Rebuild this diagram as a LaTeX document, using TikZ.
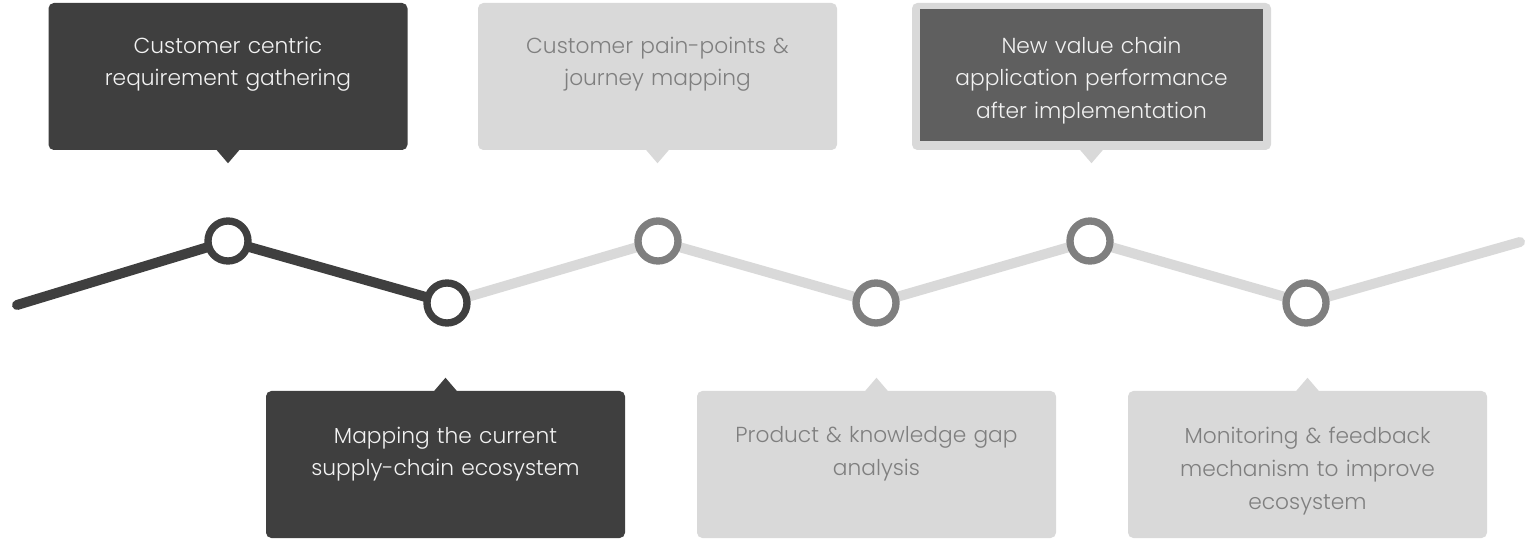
\documentclass[tikz,border=0pt]{standalone}
\usepackage{fontspec}
\setmainfont{Poppins}[UprightFont={* Light}]
\usetikzlibrary{calc,backgrounds}
\definecolor{dk}{HTML}{3F3F3F}
\definecolor{lt}{HTML}{D9D9D9}
\definecolor{md}{HTML}{7F7F7F}
\definecolor{inn}{HTML}{5F5F5F}
\definecolor{wt}{HTML}{F2F2F2}
\tikzset{
  box/.style={minimum width=359*0.75pt, minimum height=147*0.75pt, rounded corners=4pt, inner sep=0pt},
  darkbox/.style={box, fill=dk},
  lightbox/.style={box, fill=lt},
  txt/.style={anchor=north, align=center, text width=330*0.75pt, font=\fontsize{16.3}{24.7}\selectfont},
  ring/.style={circle, draw, line width=5.5pt, fill=white, minimum size=30pt, inner sep=0pt},
  seg/.style={line width=7.5pt, line cap=round},
}
\begin{document}
\begin{tikzpicture}[x=0.75pt,y=-0.75pt]
\useasboundingbox (0,0) rectangle (1528,541);
% path coordinates
\coordinate (p0) at (17,305);
\coordinate (p1) at (228,241);
\coordinate (p2) at (447,303);
\coordinate (p3) at (658,241);
\coordinate (p4) at (876,303);
\coordinate (p5) at (1090,241);
\coordinate (p6) at (1306,303);
\coordinate (p7) at (1520,242);
\draw[seg, lt] (p2) -- (p3) -- (p4) -- (p5) -- (p6) -- (p7);
\draw[seg, dk, line join=round] (p0) -- (p1) -- (p2);
\node[ring, draw=dk] (c1) at (p1) {};
\node[ring, draw=dk] (c2) at (p2) {};
\node[ring, draw=md] (c3) at (p3) {};
\node[ring, draw=md] (c4) at (p4) {};
\node[ring, draw=md] (c5) at (p5) {};
\node[ring, draw=md] (c6) at (p6) {};
% top boxes
\node[darkbox] (b1) at (228,76.5) {};
\fill[dk] ($(b1.south)+(-12,-1)$) -- ($(b1.south)+(12,-1)$) -- ($(b1.south)+(0,13)$) -- cycle;
\node[txt, text=wt] (t1) at (228,32) {Customer centric\\requirement gathering};
\node[lightbox] (b2) at (657.5,76.5) {};
\fill[lt] ($(b2.south)+(-12,-1)$) -- ($(b2.south)+(12,-1)$) -- ($(b2.south)+(0,13)$) -- cycle;
\node[txt, text=md] (t2) at (657.5,32) {Customer pain-points \&\\journey mapping};
\node[lightbox] (b3) at (1091.5,76.5) {};
\fill[lt] ($(b3.south)+(-12,-1)$) -- ($(b3.south)+(12,-1)$) -- ($(b3.south)+(0,13)$) -- cycle;
\node[fill=inn, minimum width=343*0.75pt, minimum height=132*0.75pt, inner sep=0pt] (i3) at (1091.5,75) {};
\node[txt, text=wt] (t3) at (1091.5,32) {New value chain\\application performance\\after implementation};
% bottom boxes
\node[darkbox] (b4) at (445.5,464.5) {};
\fill[dk] ($(b4.north)+(-12,1)$) -- ($(b4.north)+(12,1)$) -- ($(b4.north)+(0,-13)$) -- cycle;
\node[txt, text=wt] (t4) at (445.5,422) {Mapping the current\\supply-chain ecosystem};
\node[lightbox] (b5) at (876.5,464.5) {};
\fill[lt] ($(b5.north)+(-12,1)$) -- ($(b5.north)+(12,1)$) -- ($(b5.north)+(0,-13)$) -- cycle;
\node[txt, text=md] (t5) at (876.5,422) {Product \& knowledge gap\\analysis};
\node[lightbox] (b6) at (1307.5,464.5) {};
\fill[lt] ($(b6.north)+(-12,1)$) -- ($(b6.north)+(12,1)$) -- ($(b6.north)+(0,-13)$) -- cycle;
\node[txt, text=md] (t6) at (1307.5,422) {Monitoring \& feedback\\mechanism to improve\\ecosystem};
\end{tikzpicture}
\end{document}
